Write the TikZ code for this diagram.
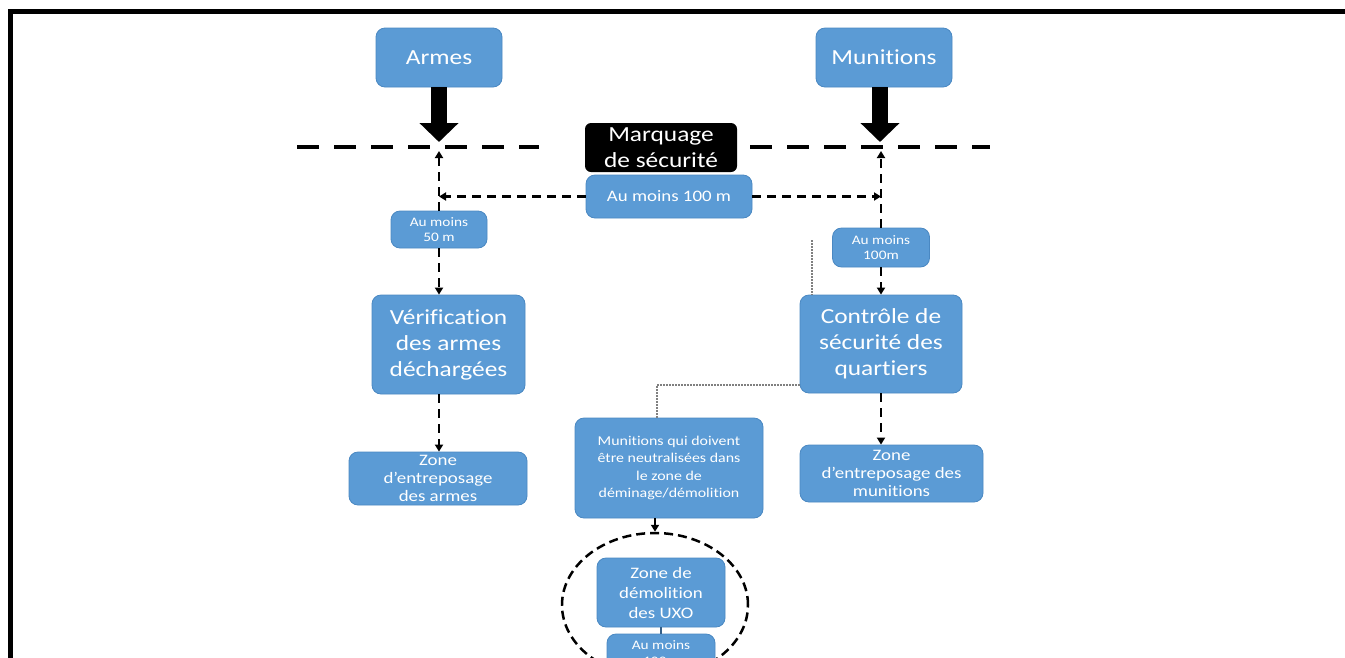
\documentclass[tikz,border=0pt]{standalone}
\usepackage{fontspec}
\setmainfont{Carlito}[FakeStretch=1.18,Ligatures=NoCommon]
\usetikzlibrary{arrows.meta,shapes.geometric}
\definecolor{boxblue}{HTML}{5B9BD5}
\definecolor{boxedge}{HTML}{4A88C2}
\newcommand\fsBig{\fontsize{21.5}{26}\selectfont}
\newcommand\fsMid{\fontsize{16}{20}\selectfont}
\newcommand\fsZone{\fontsize{16}{18}\selectfont}
\newcommand\fsSmall{\fontsize{13}{15.5}\selectfont}
\newcommand\fsMqd{\fontsize{13.5}{17.5}\selectfont}
\newcommand\fsDem{\fontsize{16}{20}\selectfont}
\begin{document}
\begin{tikzpicture}[x=1pt,y=-1pt,
  bluebox/.style={draw=boxedge, line width=0.8pt, fill=boxblue, rounded corners=9pt,
    text=white, align=center, inner sep=0pt},
  blackbox/.style={fill=black, rounded corners=6pt, text=white, align=center, inner sep=0pt},
  bigarrow/.style={line width=16pt, -{Triangle[length=19pt,width=38pt]}},
  thickdash/.style={line width=4.5pt, dash pattern=on 22pt off 15pt},
  conn/.style={line width=2.5pt, dash pattern=on 9pt off 6pt, -{Triangle[length=7pt,width=8pt]}},
  dotline/.style={line width=1.2pt, gray, dash pattern=on 1.5pt off 1.5pt},
  ringstyle/.style={draw, ellipse, line width=2.5pt, dash pattern=on 9pt off 5pt}
]
\useasboundingbox (0,0) rectangle (1345,657);
\clip (0,0) rectangle (1345,657);
\fill[white] (0,0) rectangle (1345,657);

% frame
\draw[line width=5pt] (10.5,1000) -- (10.5,11.5) -- (1400,11.5);

% main dashed safety line
\coordinate (hl1) at (297,147);
\coordinate (hl2) at (539,147);
\coordinate (hr1) at (750,147);
\coordinate (hr2) at (990,147);
\draw[thickdash] (hl1) -- (hl2);
\draw[thickdash] (hr1) -- (hr2);

% ring
\node[ringstyle, minimum width=186pt, minimum height=144pt] (ell) at (655,605) {};

% nodes
\node[bluebox, minimum width=126pt, minimum height=59pt, font=\fsBig] (armes) at (439,57.5) {Armes};
\node[bluebox, minimum width=136pt, minimum height=59pt, font=\fsBig] (munitions) at (884,57.5) {Munitions};
\node[blackbox, minimum width=152pt, minimum height=49pt, font=\fsBig] (marquage) at (661,147.5) {Marquage\\de sécurité};
\node[bluebox, minimum width=166pt, minimum height=43pt, font=\fsMid] (am100) at (669,196.5) {Au moins 100 m};
\node[bluebox, minimum width=96pt, minimum height=37pt, font=\fsSmall] (am50) at (439,229.5) {Au moins\\50 m};
\node[bluebox, minimum width=153pt, minimum height=99pt, font=\fsBig] (verif) at (448.5,344.5) {Vérification\\des armes\\déchargées};
\node[bluebox, minimum width=178pt, minimum height=53pt, font=\fsZone] (zarmes) at (438,478.5) {Zone\\d’entreposage\\des armes};
\node[bluebox, minimum width=97pt, minimum height=39pt, font=\fsSmall] (am100r) at (881,247.5) {Au moins\\100m};
\node[bluebox, minimum width=162pt, minimum height=98pt, font=\fsBig] (controle) at (881,344) {Contrôle de\\sécurité des\\quartiers};
\node[bluebox, minimum width=183pt, minimum height=57pt, font=\fsZone] (zmun) at (891.5,473.5) {Zone\\d’entreposage des\\munitions};
\node[bluebox, minimum width=188pt, minimum height=100pt, font=\fsMqd] (mqd) at (669,468) {Munitions qui doivent\\être neutralisées dans\\le zone de\\déminage/démolition};
\node[bluebox, minimum width=128pt, minimum height=69pt, font=\fsDem] (zdem) at (661,592.5) {Zone de\\démolition\\des UXO};
\node[bluebox, minimum width=108pt, minimum height=38pt, font=\fsSmall] (am100b) at (661,653) {Au moins\\100m};

% thick arrows
\coordinate (ltip) at (439,142);
\coordinate (mtip) at (880,142);
\draw[bigarrow] (armes.south) -- (ltip);
\draw[bigarrow] (munitions.south -| mtip) -- (mtip);

% dashed connectors
\coordinate (lx) at (439,151);
\coordinate (rx) at (881,151);
\draw[conn] (am50.north) -- (lx);
\draw[conn] (am50.south) -- (am50.south |- verif.north);
\draw[conn] (am50.south |- verif.south) -- (am50.south |- zarmes.north);
\draw[conn] (am100.west) -- (am50.north |- am100.west);
\draw[conn] (am100.east) -- (am100r.north |- am100.east);
\draw[conn] (am100r.north) -- (rx);
\draw[conn] (am100r.south) -- (am100r.south |- controle.north);
\draw[conn] (am100r.south |- controle.south) -- (am100r.south |- zmun.north);
\draw[conn] (ell.north |- mqd.south) -- (ell.north);

% dotted thin lines
\coordinate (d1) at (657,385);
\coordinate (d2) at (812,240);
\draw[dotline] (controle.west |- d1) -| (d1 |- mqd.north);
\draw[dotline] (d2) -- (d2 |- controle.north);

% short solid link
\draw[boxedge!70!black, line width=2pt] (zdem.south) -- (am100b.north);
\end{tikzpicture}
\end{document}
